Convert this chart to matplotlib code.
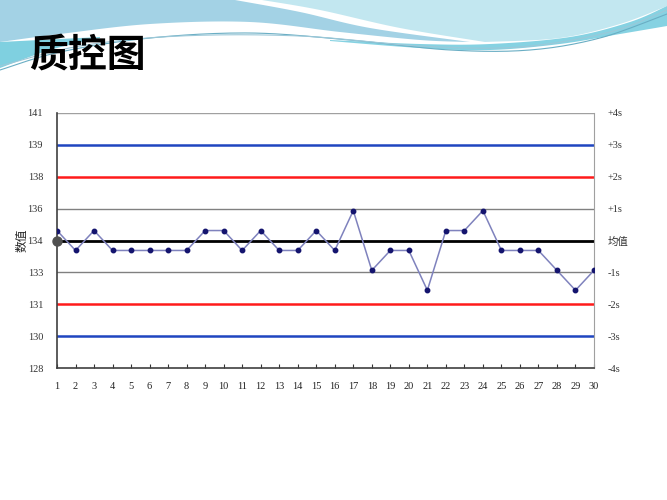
import numpy as np
import matplotlib
matplotlib.use("Agg")
import matplotlib.pyplot as plt
from matplotlib.patches import Polygon

plt.rcParams['font.family'] = ['Liberation Serif', 'Noto Sans CJK SC', 'DejaVu Sans']

# ---- data ----
days = list(range(1, 31))
values = [135, 134, 135, 134, 134, 134, 134, 134, 135, 135,
          134, 135, 134, 134, 135, 134, 136, 133, 134, 134,
          132, 135, 135, 136, 134, 134, 134, 133, 132, 133]
mean_value = 134.5
sd_value = 1.6
sd_levels = [-4, -3, -2, -1, 0, 1, 2, 3, 4]
left_labels = ['128', '130', '131', '133', '134', '136', '138', '139', '141']
right_labels = ['-4s', '-3s', '-2s', '-1s', '均值', '+1s', '+2s', '+3s', '+4s']
title_text = '质控图'
ylabel_text = '数值'

W, H = 667, 500
fig = plt.figure(figsize=(W / 100, H / 100), dpi=100)

# ---- decorative background wave ----
bg = fig.add_axes([0, 0, 1, 1], zorder=0)
bg.set_xlim(0, W)
bg.set_ylim(H, 0)
bg.axis('off')


def catmull(pts, n=20):
    pts = np.asarray(pts, float)
    p = np.vstack([pts[0], pts, pts[-1]])
    out = []
    for i in range(1, len(p) - 2):
        p0, p1, p2, p3 = p[i - 1], p[i], p[i + 1], p[i + 2]
        t = np.linspace(0, 1, n, endpoint=False)[:, None]
        seg = 0.5 * ((2 * p1) + (-p0 + p2) * t + (2 * p0 - 5 * p1 + 4 * p2 - p3) * t ** 2
                     + (-p0 + 3 * p1 - 3 * p2 + p3) * t ** 3)
        out.append(seg)
    out.append(pts[-1:])
    return np.vstack(out)


# right light cyan region
b_left = catmull([(262, 0), (320, 10), (400, 28), (485, 42)])
b_bot = catmull([(485, 42), (560, 38), (620, 24), (667, 6)])
polyB = np.vstack([b_left, b_bot, [(667, 0)]])
bg.add_patch(Polygon(polyB, closed=True, fc='#c2e7f0', ec='none'))

# cyan lower band
band_top = catmull([(330, 40), (420, 44), (490, 44), (570, 37), (630, 22), (667, 6)])
band_bot = catmull([(667, 26), (620, 34), (560, 44), (490, 50), (420, 48), (330, 41)])
bg.add_patch(Polygon(np.vstack([band_top, band_bot]), closed=True, fc='#86d2e2', ec='none'))

# left blue region
a_right = catmull([(235, 0), (300, 12), (370, 28), (470, 42)])
a_bot = catmull([(470, 42), (420, 40), (340, 32), (250, 22), (150, 24), (60, 34), (0, 42)])
polyA = np.vstack([[(0, 0)], a_right, a_bot])
bg.add_patch(Polygon(polyA, closed=True, fc='#a3d2e5', ec='none'))

# left cyan wedge
w_top = catmull([(0, 42), (40, 40), (100, 37)])
w_bot = catmull([(100, 38), (50, 50), (0, 68)])
bg.add_patch(Polygon(np.vstack([w_top, w_bot]), closed=True, fc='#7fd0e0', ec='none'))

# thin lines
for pts, c in [([(0, 70), (60, 52), (150, 38), (250, 33), (350, 40), (450, 50), (530, 50), (600, 38), (667, 14)], '#6aaec4'),
               ([(0, 66), (80, 46), (180, 36), (300, 36), (420, 46), (520, 47), (610, 32), (667, 10)], '#9cc8d8')]:
    c_pts = catmull(pts)
    bg.plot(c_pts[:, 0], c_pts[:, 1], color=c, lw=0.8)

fig.text(29 / W, 1 - 55 / H, title_text, fontsize=28, fontweight='heavy',
         family=['Noto Sans CJK SC'], va='center', ha='left', color='black')

# ---- chart ----
ax = fig.add_axes([57 / W, 1 - 368 / H, (594 - 57) / W, (368 - 113) / H], zorder=2)
ax.patch.set_alpha(0)
lo = mean_value - 4 * sd_value
hi = mean_value + 4 * sd_value
ax.set_xlim(1, 30)
ax.set_ylim(lo, hi)

line_styles = {
    1: ('#808080', 1.0), -1: ('#808080', 1.0),
    2: ('#ff1a1a', 1.8), -2: ('#ff1a1a', 1.8),
    3: ('#1f45c0', 1.8), -3: ('#1f45c0', 1.8),
    0: ('#000000', 2.0), 4: ('#a0a0a0', 1.0),
}
for k, (c, lw) in line_styles.items():
    ax.axhline(mean_value + k * sd_value, color=c, lw=lw, zorder=2)

ax.plot(days, values, color='#7f82bd', lw=1.1, zorder=3)
ax.plot(days, values, ls='none', marker='o', ms=3.2, color='#14146e', zorder=4)
ax.plot([1], [mean_value], ls='none', marker='o', ms=6.5, color='#505050', zorder=5, clip_on=False)

yt = [mean_value + k * sd_value for k in sd_levels]
ax.set_yticks(yt)
ax.set_yticklabels(left_labels, fontsize=7.5, color='#333333')
ax.tick_params(axis='y', length=0, pad=10)
ax.set_xticks(days)
ax.set_xticklabels([str(d) for d in days], fontsize=7.5, color='#222222')
ax.tick_params(axis='x', direction='in', length=3, pad=10, color='#333333')

ax.spines['top'].set_visible(False)
ax.spines['left'].set_color('#404040')
ax.spines['bottom'].set_color('#404040')
ax.spines['right'].set_color('#a0a0a0')
ax.spines['left'].set_linewidth(1.2)
ax.spines['bottom'].set_linewidth(1.2)

fig.text(22 / W, 1 - 240 / H, ylabel_text, fontsize=8.5, family=['Noto Sans CJK SC'],
         color='#222222', rotation=90, ha='center', va='center')

ax2 = ax.twinx()
ax2.set_ylim(lo, hi)
ax2.set_yticks(yt)
ax2.set_yticklabels(right_labels, fontsize=7.5, color='#333333')
ax2.tick_params(axis='y', length=0, pad=10)
for s in ax2.spines.values():
    s.set_visible(False)

fig.savefig('out.png', dpi=100)
